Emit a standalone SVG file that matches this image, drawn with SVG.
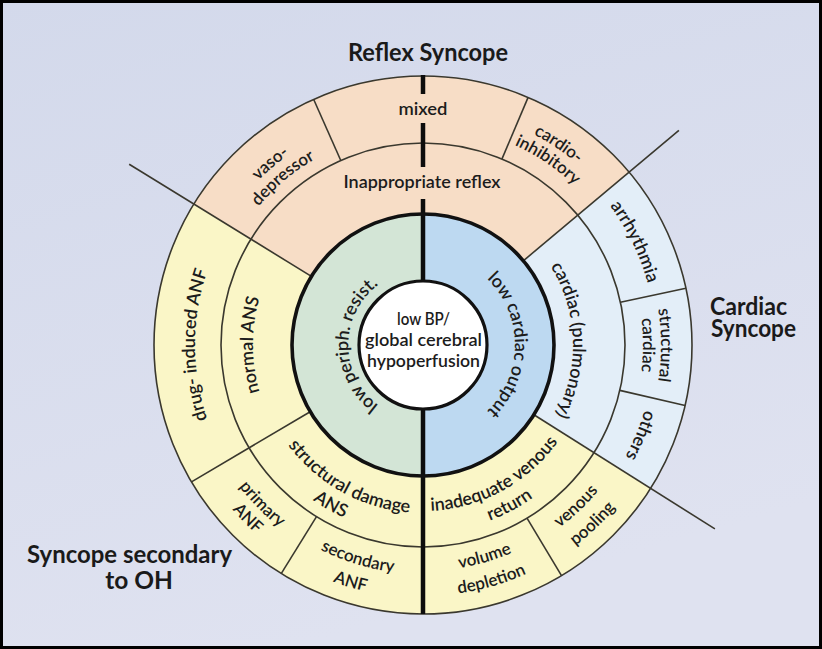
<svg xmlns="http://www.w3.org/2000/svg" width="822" height="649" viewBox="0 0 822 649">
<defs>
  <linearGradient id="bg" x1="0" y1="0" x2="0.35" y2="1">
    <stop offset="0" stop-color="#d3d9eb"/>
    <stop offset="1" stop-color="#dfe2f0"/>
  </linearGradient>
  <!-- clockwise arcs (glyph tops outward) -->
  <path id="tp-vaso" d="M193.8,305.2 A233,233 0 0,1 423,112"/>
  <path id="tp-depr" d="M211.3,307.7 A215,215 0 0,1 423,130"/>
  <path id="tp-cardio" d="M398.1,108.3 A238,238 0 0,1 651.8,279.4"/>
  <path id="tp-inhib" d="M400.0,126.2 A220,220 0 0,1 634.5,284.4"/>
  <path id="tp-arr" d="M517.8,132.2 A233,233 0 0,1 649.1,401.4"/>
  <path id="tp-struct" d="M605.3,192.0 A238,238 0 0,1 605.3,498.0"/>
  <path id="tp-card2" d="M591.5,203.6 A220,220 0 0,1 591.5,486.4"/>
  <path id="tp-others" d="M643.4,275.9 A231,231 0 0,1 529.3,550.1"/>
  <path id="tp-pulm" d="M493.4,212.6 A150,150 0 0,1 502.5,472.2"/>
  <path id="tp-lco" d="M439.0,254.4 A92,92 0 0,1 439.0,435.6"/>
  <path id="tp-lpr" d="M416.5,419.7 A75,75 0 0,1 416.5,270.3"/>
  <path id="tp-nans" d="M292.8,454.3 A170,170 0 0,1 292.8,235.7"/>
  <path id="tp-drug" d="M261.8,506.2 A228,228 0 0,1 261.8,183.8"/>
  <!-- counter-clockwise arcs (glyph tops inward) -->
  <path id="tp-sd" d="M261.5,391.4 A168,168 0 0,0 469.3,506.5"/>
  <path id="tp-ans" d="M239.5,394.2 A190,190 0 0,0 472.2,528.5"/>
  <path id="tp-inad" d="M375.9,504.2 A166,166 0 0,0 582.2,392.1"/>
  <path id="tp-ret" d="M369.0,525.1 A188,188 0 0,0 603.1,399.0"/>
  <path id="tp-ven" d="M436.9,572.6 A228,228 0 0,0 649.5,370.8"/>
  <path id="tp-pool" d="M438.4,596.5 A252,252 0 0,0 673.4,373.5"/>
  <path id="tp-vol" d="M331.8,551.8 A226,226 0 0,0 610.8,470.7"/>
  <path id="tp-depl" d="M321.7,574.7 A251,251 0 0,0 631.6,484.6"/>
  <path id="tp-prim" d="M191.8,364.0 A232,232 0 0,0 401.6,576.0"/>
  <path id="tp-anf1" d="M171.9,365.6 A252,252 0 0,0 399.7,595.9"/>
  <path id="tp-sec" d="M230.9,469.7 A229,229 0 0,0 512.5,555.8"/>
  <path id="tp-anf2" d="M210.8,482.8 A253,253 0 0,0 521.9,577.9"/>
</defs>
<style>
  text { font-family: Lato, "Open Sans", "Noto Sans", sans-serif; font-weight: 600; fill: #1c1c1c; }
  .lbl { font-size: 18px; }
  .sm { font-size: 17px; }
  .ttl { font-size: 24.5px; font-weight: 700; fill: #1a1a1a; }
  .thin { fill: none; stroke: #3a382e; stroke-width: 1.6; }
  .thick { fill: none; stroke: #111; stroke-width: 3.6; }
  .bar { stroke: #0d0d0d; stroke-width: 4.5; }
</style>

<rect x="0" y="0" width="822" height="649" fill="url(#bg)"/>
<rect x="1.5" y="1.5" width="819" height="646" fill="none" stroke="#000" stroke-width="3"/>

<g id="sector-fills">
  <circle cx="423" cy="345" r="269" fill="#faf6c7"/>
  <path d="M423,345 L629.1,172.1 A269,269 0 0,0 193.9,204.0 Z" fill="#f7ddc6"/>
  <path d="M423,345 L650.6,488.4 A269,269 0 0,0 629.1,172.1 Z" fill="#e3eef8"/>
  <path d="M423,214 A131,131 0 0,0 423,476 Z" fill="#d3e5d6"/>
  <path d="M423,214 A131,131 0 0,1 423,476 Z" fill="#bdd9f1"/>
</g>

<g id="connectors">
  <circle class="thin" cx="423" cy="345" r="202"/>
  <circle class="thin" cx="423" cy="345" r="269" stroke-width="2"/>
  <line class="thin" x1="311.4" y1="276.4" x2="129.2" y2="164.2"/>
  <line class="thin" x1="523.3" y1="260.8" x2="678.9" y2="130.3"/>
  <line class="thin" x1="533.9" y1="414.8" x2="714.9" y2="528.9"/>
  <line class="thin" x1="310.2" y1="411.7" x2="191.5" y2="481.9"/>
  <line class="thin" x1="340.8" y1="160.5" x2="313.6" y2="99.3"/>
  <line class="thin" x1="501.9" y1="159.1" x2="528.1" y2="97.4"/>
  <line class="thin" x1="620.4" y1="302.3" x2="685.9" y2="288.2"/>
  <line class="thin" x1="619.8" y1="390.4" x2="685.1" y2="405.5"/>
  <line class="thin" x1="527.0" y1="518.2" x2="561.5" y2="575.6"/>
  <line class="thin" x1="316.5" y1="516.7" x2="281.2" y2="573.6"/>
  <line class="bar" x1="423" y1="75" x2="423" y2="94"/>
  <line class="bar" x1="423" y1="123" x2="423" y2="167"/>
  <line class="bar" x1="423" y1="199" x2="423" y2="614"/>
  <circle class="thick" cx="423" cy="345" r="131"/>
</g>

<g id="center-node">
  <circle cx="423" cy="345" r="64" fill="#fff" stroke="#111" stroke-width="3.2"/>
  <text class="lbl" x="423.5" y="325" text-anchor="middle" textLength="53" lengthAdjust="spacingAndGlyphs">low BP/</text>
  <text class="lbl" x="423.5" y="346" text-anchor="middle" textLength="117" lengthAdjust="spacingAndGlyphs">global cerebral</text>
  <text class="lbl" x="423.5" y="367" text-anchor="middle" textLength="113" lengthAdjust="spacingAndGlyphs">hypoperfusion</text>
</g>

<g id="low-periph-resist">
  <text class="lbl"><textPath href="#tp-lpr" startOffset="50%" text-anchor="middle">low periph. resist.</textPath></text>
</g>
<g id="low-cardiac-output">
  <text class="lbl"><textPath href="#tp-lco" startOffset="50%" text-anchor="middle">low cardiac output</textPath></text>
</g>

<g id="inappropriate-reflex">
  <text class="lbl" x="422" y="188" text-anchor="middle" textLength="157" lengthAdjust="spacingAndGlyphs">Inappropriate reflex</text>
</g>
<g id="vasodepressor">
  <text class="sm"><textPath href="#tp-vaso" startOffset="50%" text-anchor="middle">vaso-</textPath></text>
  <text class="sm"><textPath href="#tp-depr" startOffset="50%" text-anchor="middle">depressor</textPath></text>
</g>
<g id="mixed">
  <text class="lbl" x="423" y="115" text-anchor="middle" textLength="49" lengthAdjust="spacingAndGlyphs">mixed</text>
</g>
<g id="cardioinhibitory">
  <text class="sm"><textPath href="#tp-cardio" startOffset="50%" text-anchor="middle">cardio-</textPath></text>
  <text class="sm"><textPath href="#tp-inhib" startOffset="50%" text-anchor="middle">inhibitory</textPath></text>
</g>

<g id="cardiac-pulmonary">
  <text class="lbl"><textPath href="#tp-pulm" startOffset="50%" text-anchor="middle">cardiac (pulmonary)</textPath></text>
</g>
<g id="arrhythmia">
  <text class="lbl"><textPath href="#tp-arr" startOffset="50%" text-anchor="middle">arrhythmia</textPath></text>
</g>
<g id="structural-cardiac">
  <text class="sm"><textPath href="#tp-struct" startOffset="50%" text-anchor="middle">structural</textPath></text>
  <text class="sm"><textPath href="#tp-card2" startOffset="50%" text-anchor="middle">cardiac</textPath></text>
</g>
<g id="others">
  <text class="lbl"><textPath href="#tp-others" startOffset="50%" text-anchor="middle">others</textPath></text>
</g>

<g id="inadequate-venous-return">
  <text class="lbl"><textPath href="#tp-inad" startOffset="50%" text-anchor="middle">inadequate venous</textPath></text>
  <text class="lbl"><textPath href="#tp-ret" startOffset="50%" text-anchor="middle">return</textPath></text>
</g>
<g id="venous-pooling">
  <text class="sm"><textPath href="#tp-ven" startOffset="50%" text-anchor="middle">venous</textPath></text>
  <text class="sm"><textPath href="#tp-pool" startOffset="50%" text-anchor="middle">pooling</textPath></text>
</g>
<g id="volume-depletion">
  <text class="sm"><textPath href="#tp-vol" startOffset="50%" text-anchor="middle">volume</textPath></text>
  <text class="sm"><textPath href="#tp-depl" startOffset="50%" text-anchor="middle">depletion</textPath></text>
</g>

<g id="structural-damage-ans">
  <text class="lbl"><textPath href="#tp-sd" startOffset="50%" text-anchor="middle">structural damage</textPath></text>
  <text class="lbl"><textPath href="#tp-ans" startOffset="50%" text-anchor="middle">ANS</textPath></text>
</g>
<g id="primary-anf">
  <text class="sm"><textPath href="#tp-prim" startOffset="50%" text-anchor="middle">primary</textPath></text>
  <text class="sm"><textPath href="#tp-anf1" startOffset="50%" text-anchor="middle">ANF</textPath></text>
</g>
<g id="secondary-anf">
  <text class="sm"><textPath href="#tp-sec" startOffset="50%" text-anchor="middle">secondary</textPath></text>
  <text class="sm"><textPath href="#tp-anf2" startOffset="50%" text-anchor="middle">ANF</textPath></text>
</g>
<g id="normal-ans">
  <text class="lbl"><textPath href="#tp-nans" startOffset="50%" text-anchor="middle">normal ANS</textPath></text>
</g>
<g id="drug-induced-anf">
  <text class="lbl"><textPath href="#tp-drug" startOffset="50%" text-anchor="middle">drug- induced ANF</textPath></text>
</g>

<g id="reflex-syncope-title">
  <text class="ttl" x="428" y="61" text-anchor="middle" textLength="160" lengthAdjust="spacingAndGlyphs">Reflex Syncope</text>
</g>
<g id="cardiac-syncope-title">
  <text class="ttl" x="710" y="315" textLength="77" lengthAdjust="spacingAndGlyphs">Cardiac</text>
  <text class="ttl" x="711" y="337" textLength="85" lengthAdjust="spacingAndGlyphs">Syncope</text>
</g>
<g id="oh-syncope-title">
  <text class="ttl" x="27" y="563" textLength="205" lengthAdjust="spacingAndGlyphs">Syncope secondary</text>
  <text class="ttl" x="139" y="589" text-anchor="middle">to OH</text>
</g>
</svg>
